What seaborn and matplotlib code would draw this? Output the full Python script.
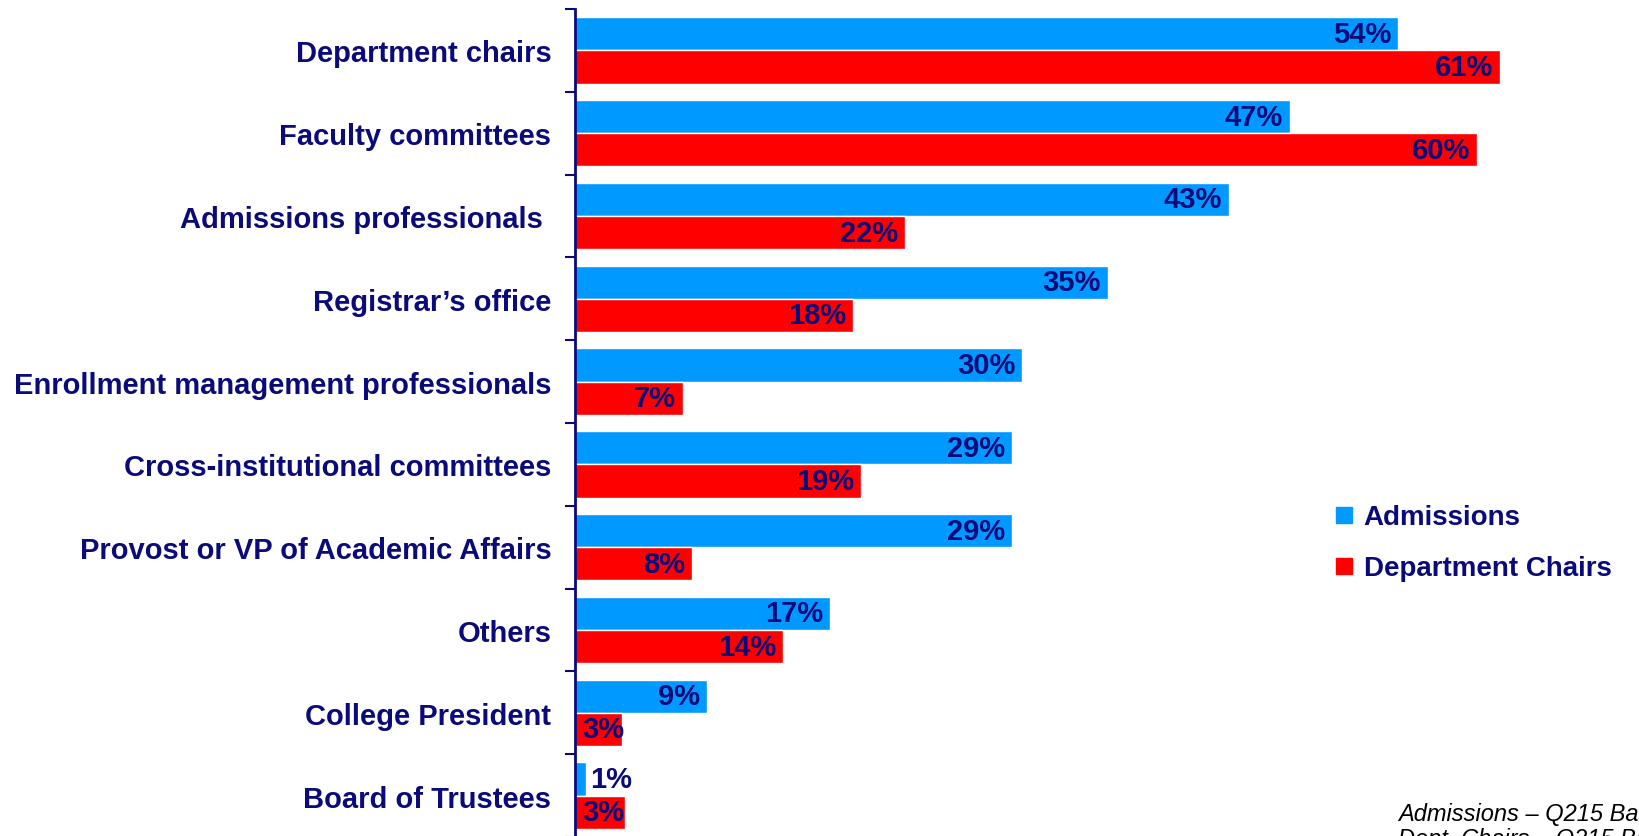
import matplotlib
matplotlib.use("Agg")
import matplotlib.pyplot as plt
from matplotlib.lines import Line2D
from matplotlib.ticker import FixedLocator
import seaborn as sns
import numpy as np
import pandas as pd

categories = ["Department chairs", "Faculty committees", "Admissions professionals ",
              "Registrar\u2019s office", "Enrollment management professionals",
              "Cross-institutional committees", "Provost or VP of Academic Affairs",
              "Others", "College President", "Board of Trustees"]
# bar lengths as measured off the chart, labels as printed
admissions = [54.1, 47.0, 43.0, 35.0, 29.4, 28.7, 28.7, 16.75, 8.7, 0.7]
dept_chairs = [60.8, 59.3, 21.7, 18.3, 7.1, 18.8, 7.7, 13.7, 3.07, 3.3]
admissions_lbl = [54, 47, 43, 35, 30, 29, 29, 17, 9, 1]
dept_chairs_lbl = [61, 60, 22, 18, 7, 19, 8, 14, 3, 3]
groups = ["Admissions", "Department Chairs"]
colors = ["#0099FF", "#FF0000"]
navy = "#0A0A7A"
notes = ["Admissions \u2013 Q215 Base: All respondents",
         "Dept. Chairs \u2013 Q215 Base: All respondents"]

df = pd.DataFrame({
    "category": categories * 2,
    "pct": admissions + dept_chairs,
    "group": [groups[0]] * len(categories) + [groups[1]] * len(categories),
})

sns.set_style("white")
plt.rcParams["font.family"] = ["Liberation Sans", "DejaVu Sans"]

fig = plt.figure(figsize=(16.4, 8.37), dpi=100)
ax = fig.add_axes([575 / 1640, 1 - 838 / 837, 1 - 575 / 1640, 828 / 837])

sns.barplot(data=df, x="pct", y="category", hue="group", palette=colors,
            orient="h", ax=ax, width=0.8, saturation=1, legend=False,
            edgecolor="white", linewidth=1)

ax.set_xlim(0, 70)
ax.set_ylim(9.5, -0.5)
ax.set_xlabel("")
ax.set_ylabel("")
ax.set_xticks([])
for s in ["top", "right", "bottom"]:
    ax.spines[s].set_visible(False)
ax.spines["left"].set_color(navy)
ax.spines["left"].set_linewidth(2)

# labels at the centre, tick marks between categories
ax.tick_params(axis="y", which="major", left=False, length=0, pad=17)
ax.yaxis.set_minor_locator(FixedLocator(np.arange(-0.5, 10, 1)))
ax.tick_params(axis="y", which="minor", left=True, length=7, width=1.5, color=navy)
for lbl in ax.get_yticklabels():
    lbl.set_fontsize(21)
    lbl.set_fontweight("bold")
    lbl.set_color(navy)

# value labels
for cont, lbls in zip(ax.containers, [admissions_lbl, dept_chairs_lbl]):
    for bar, v in zip(cont, lbls):
        y = bar.get_y() + bar.get_height() / 2
        x = bar.get_width()
        kw = dict(textcoords="offset points", va="center", fontsize=21,
                  fontweight="bold", color=navy)
        if v < 2:
            ax.annotate(f"{v}%", (x, y), xytext=(3, 0), ha="left", **kw)
        elif v < 5:
            ax.annotate(f"{v}%", (0, y), xytext=(5.5, 0), ha="left", **kw)
        else:
            ax.annotate(f"{v}%", (x, y), xytext=(-5, 0), ha="right", **kw)

handles = [Line2D([0], [0], marker="s", linestyle="", markersize=11,
                  markerfacecolor=c, markeredgecolor=c) for c in colors]
leg = fig.legend(handles, groups, loc="center left",
                 bbox_to_anchor=(1308 / 1640, 1 - 544 / 837), frameon=False,
                 handlelength=0.8, handletextpad=0.3, labelspacing=0.9,
                 prop={"size": 20, "weight": "bold"})
for t in leg.get_texts():
    t.set_color(navy)

fig.text(1398 / 1640, 1 - 815 / 837, notes[0], fontsize=17, style="italic",
         color="black", ha="left", va="center")
fig.text(1398 / 1640, 1 - 840 / 837, notes[1], fontsize=17, style="italic",
         color="black", ha="left", va="center")

fig.savefig("out.png", dpi=100)
